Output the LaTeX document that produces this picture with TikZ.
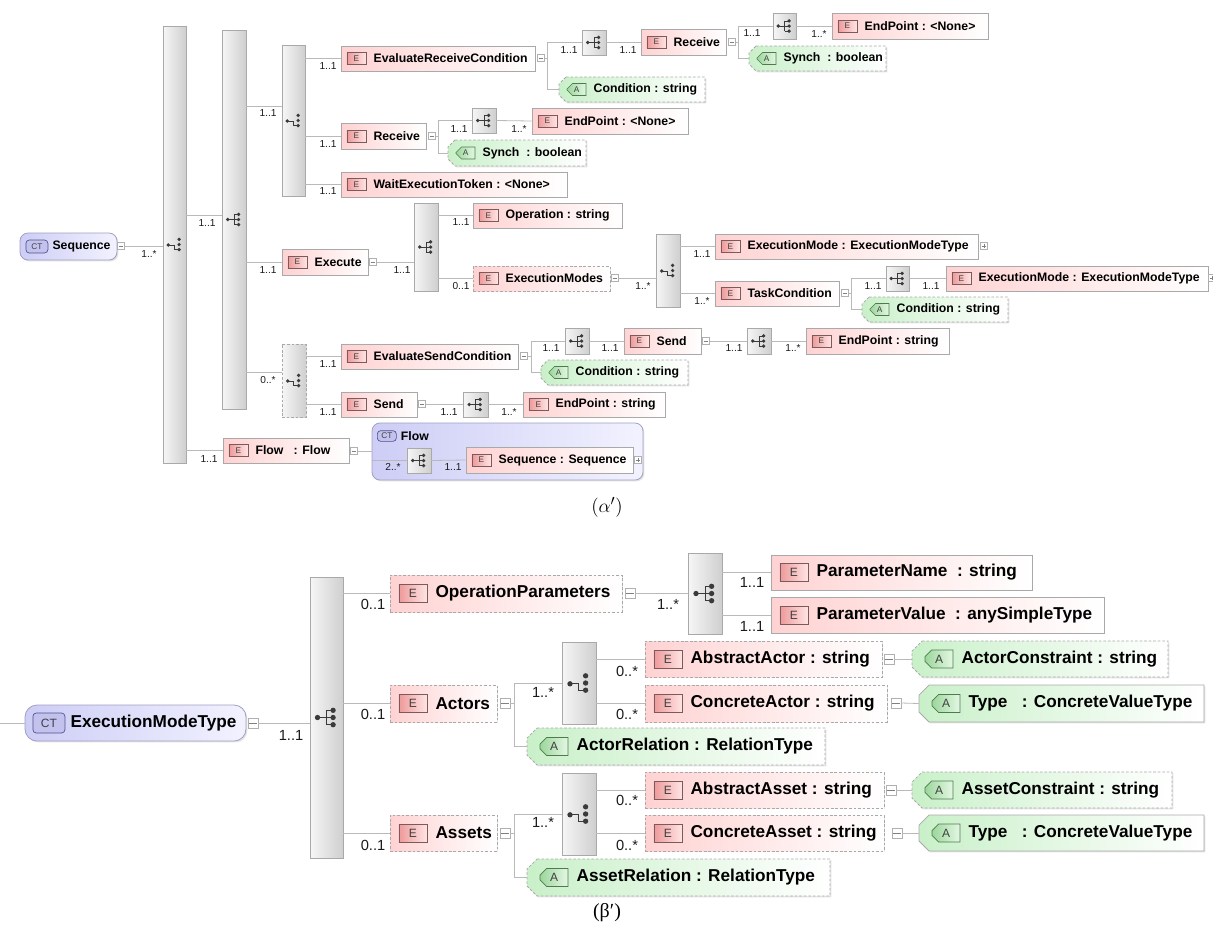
\documentclass[tikz,border=0pt]{standalone}
\usepackage{fontspec}
\newfontfamily\xsfont{Liberation Sans}
\newfontfamily\grfont{Liberation Serif}
\usetikzlibrary{shadows,shapes.misc}

\definecolor{epink}{HTML}{FFD2D2}
\definecolor{bordergray}{HTML}{A9A9A9}
\definecolor{linegray}{HTML}{B9B9B9}
\definecolor{bargrayL}{HTML}{F6F6F6}
\definecolor{bargrayR}{HTML}{CFCFCF}
\definecolor{agreen}{HTML}{C9F0C9}
\definecolor{badgepink}{HTML}{EE9A9A}
\definecolor{badgepinkR}{HTML}{FFE4E4}
\definecolor{badgeline}{HTML}{7A5A5A}
\definecolor{badgegreen}{HTML}{9CD69C}
\definecolor{badgegreenR}{HTML}{E4F8E4}
\definecolor{abadgeline}{HTML}{4E7A4E}
\definecolor{ctlav}{HTML}{CDCDF6}
\definecolor{ctlavR}{HTML}{F2F2FF}
\definecolor{ctborder}{HTML}{A0A0C2}
\definecolor{ctbadge}{HTML}{C2C2EE}
\definecolor{ctbadgeline}{HTML}{50508A}
\definecolor{icdark}{HTML}{3A3A3A}
\definecolor{multc}{HTML}{1A1A1A}
\definecolor{colline}{HTML}{B0B0B0}

% size sets for the two schema views
\newcommand\topsec{%
  \def\bdgoff{4.5pt}\def\bdgw{14.25pt}\def\bdgh{9pt}\def\abdgoff{6pt}%
  \def\bdgfont{\xsfont\fontsize{6.2}{7}\selectfont}%
  \def\labfont{\xsfont\bfseries\fontsize{9.2}{11}\selectfont}%
  \def\mulfont{\xsfont\fontsize{7.6}{9}\selectfont}%
  \def\txtgap{5.25pt}\def\bev{7}\def\colsz{5.25pt}\def\icsc{1.4}%
  \def\ctoff{4.5pt}\def\ctw{16.5pt}\def\cth{9.75pt}\def\ctgap{3pt}\def\ctr{6pt}}
\newcommand\botsec{%
  \def\bdgoff{6.75pt}\def\bdgw{21pt}\def\bdgh{13.5pt}\def\abdgoff{9.75pt}%
  \def\bdgfont{\xsfont\fontsize{9}{10}\selectfont}%
  \def\labfont{\xsfont\bfseries\fontsize{12.9}{15}\selectfont}%
  \def\mulfont{\xsfont\fontsize{11}{13}\selectfont}%
  \def\txtgap{6pt}\def\bev{10}\def\colsz{7.5pt}\def\icsc{2}%
  \def\ctoff{6pt}\def\ctw{24pt}\def\cth{15pt}\def\ctgap{3.75pt}\def\ctr{9pt}}

\tikzset{
  conn/.style={draw=linegray, line width=0.6pt},
  shad/.style={drop shadow={shadow xshift=1.1pt, shadow yshift=-1.1pt, opacity=0.22}},
  ebox/.style={draw=bordergray, line width=0.55pt, left color=epink, right color=white, shad, inner sep=0pt},
  optl/.style={dash pattern=on 2pt off 1.4pt},
  cbox/.style={draw=bordergray, line width=0.55pt, left color=bargrayL, right color=bargrayR, shad, inner sep=0pt},
  abox/.style={draw=bordergray, line width=0.55pt, left color=agreen, right color=white, shad},
  inv/.style={inner sep=0pt, draw=none},
  ebadge/.style={anchor=west, draw=badgeline, line width=0.5pt, left color=badgepink, right color=badgepinkR,
    minimum width=\bdgw, minimum height=\bdgh, inner sep=0pt, font=\bdgfont, text=black!75},
  abadge/.style={anchor=west, draw=abadgeline, line width=0.5pt, left color=badgegreen, right color=badgegreenR,
    chamfered rectangle, chamfered rectangle corners={north west,south west}, chamfered rectangle xsep=2pt,
    minimum width=\bdgw, minimum height=\bdgh, inner sep=0pt, font=\bdgfont, text=black!75},
  etext/.style={anchor=west, inner sep=0pt, xshift=\txtgap, font=\labfont, text=black},
  ctframe/.style={draw=ctborder, line width=0.6pt, rounded corners=\ctr, left color=ctlav, right color=ctlavR, shad, inner sep=0pt},
  ctbadge/.style={anchor=west, draw=ctbadgeline, line width=0.5pt, rounded corners=2.5pt, fill=ctbadge,
    minimum width=\ctw, minimum height=\cth, inner sep=0pt, font=\bdgfont, text=black!75},
  ctlabel/.style={anchor=west, inner sep=0pt, xshift=\ctgap, font=\labfont, text=black},
  mult/.style={inner sep=0pt, font=\mulfont, text=multc},
  colbox/.style={draw=colline, line width=0.5pt, fill=white, minimum size=\colsz, inner sep=0pt},
  colsign/.style={draw=gray, line width=0.5pt},
}

% element box: [style]{name}{x1}{y1}{x2}{y2}{label}
\newcommand\elem[7][]{%
  \pgfmathsetmacro\bw{(#5-#3)*0.75}\pgfmathsetmacro\bh{(#6-#4)*0.75}%
  \node[ebox,#1,minimum width=\bw pt,minimum height=\bh pt] (#2) at ({(#3+#5)/2},{(#4+#6)/2}) {};
  \node[ebadge] (#2-b) at ([xshift=\bdgoff]#2.west) {E};
  \node[etext] (#2-t) at (#2-b.east) {#7};}
% attribute box with bevelled left end
\newcommand\attr[7][]{%
  \pgfmathsetmacro\bw{(#5-#3)*0.75}\pgfmathsetmacro\bh{(#6-#4)*0.75}%
  \node[inv,minimum width=\bw pt,minimum height=\bh pt] (#2) at ({(#3+#5)/2},{(#4+#6)/2}) {};
  \path[abox,#1] ({#3+\bev},#4) -- (#5,#4) -- (#5,#6) -- ({#3+\bev},#6) -- (#3,{#6-\bev}) -- (#3,{#4+\bev}) -- cycle;
  \node[abadge] (#2-b) at ([xshift=\abdgoff]#2.west) {A};
  \node[etext] (#2-t) at (#2-b.east) {#7};}
% compositor box with sequence / choice icon
\newcommand\icseq{%
  \draw[icdark,line width=0.65pt] (-4.5,0) -- (0,0) (0,-3.6) -- (0,3.6) (0,-3.6) -- (3.3,-3.6) (0,0) -- (3.3,0) (0,3.6) -- (3.3,3.6);
  \fill[icdark] (-4.5,0) circle (1pt) (3.3,-3.6) circle (1pt) (3.3,0) circle (1pt) (3.3,3.6) circle (1pt);}
\newcommand\iccho{%
  \draw[icdark,line width=0.65pt] (-4.5,0.4) -- (-0.4,0.4) -- (-0.4,3.6) -- (3.3,3.6);
  \fill[icdark] (-4.5,0.4) circle (1pt) (3.3,-3.6) circle (1pt) (3.3,0) circle (1pt) (3.3,3.6) circle (1pt);}
\newcommand\compo[7][]{%
  \pgfmathsetmacro\bw{(#5-#3)*0.75}\pgfmathsetmacro\bh{(#6-#4)*0.75}%
  \node[cbox,#1,minimum width=\bw pt,minimum height=\bh pt] (#2) at ({(#3+#5)/2},{(#4+#6)/2}) {};
  \begin{scope}[shift={(#2.center)},scale=\icsc]\csname ic#7\endcsname\end{scope}}
% complex type box
\newcommand\ctbox[6]{%
  \pgfmathsetmacro\bw{(#4-#2)*0.75}\pgfmathsetmacro\bh{(#5-#3)*0.75}%
  \node[ctframe,minimum width=\bw pt,minimum height=\bh pt] (#1) at ({(#2+#4)/2},{(#3+#5)/2}) {};
  \node[ctbadge] (#1-b) at ([xshift=\ctoff]#1.west) {CT};
  \node[ctlabel] (#1-t) at (#1-b.east) {#6};}
% collapse / expand toggles
\newcommand\colb[3]{\node[colbox] (#1) at (#2,#3) {};
  \draw[colsign] ([xshift=1.1pt]#1.west) -- ([xshift=-1.1pt]#1.east);}
\newcommand\expb[3]{\colb{#1}{#2}{#3}\draw[colsign] ([yshift=-1.1pt]#1.north) -- ([yshift=1.1pt]#1.south);}
% occurrence label
\newcommand\mul[4]{\node[mult] (#1) at (#2,#3) {#4};}

\begin{document}
\begin{tikzpicture}[x=0.75pt,y=-0.75pt]
\useasboundingbox (0,0) rectangle (1213,936);

%% ---------------- Sequence ----------------
\topsec
\ctbox{seq}{20}{233}{117}{260}{Sequence}
\colb{seqC}{121}{246}
\compo{bar1}{163}{26}{186}{463}{cho}
\draw[conn] (seqC.east) -- (bar1.west |- seqC.east);
\mul{m1}{149}{254}{1..*}

\compo{bar2}{222}{30}{246}{409}{seq}
\coordinate (bar2-in) at (222,215);
\draw[conn] (bar1.east |- bar2-in) -- (bar2-in);
\mul{m2}{207}{223}{1..1}

\compo{bar3}{282}{45}{305}{196}{cho}
\coordinate (bar3-in) at (282,106);
\draw[conn] (bar2.east |- bar3-in) -- (bar3-in);
\mul{m3}{268}{113}{1..1}

\elem{erc}{341}{46}{535}{71}{EvaluateReceiveCondition}
\elem{rcva}{341}{123}{426}{149}{Receive}
\elem{wet}{341}{172}{567}{197}{WaitExecutionToken : <None>}
\draw[conn] (bar3.east |- erc.west) -- (erc.west);
\draw[conn] (bar3.east |- rcva.west) -- (rcva.west);
\draw[conn] (bar3.east |- wet.west) -- (wet.west);
\mul{m4}{328}{66}{1..1}
\mul{m5}{328}{144}{1..1}
\mul{m6}{328}{191}{1..1}

% EvaluateReceiveCondition content
\colb{ercC}{541}{58}
\coordinate (ercJ) at (547,58);
\compo{ib1}{582}{30}{606}{55}{seq}
\attr[optl]{cnd1}{559}{77}{705}{102}{Condition : string}
\draw[conn] (ercC.east) -- (ercJ) (ercJ |- ib1.west) -- (ib1.west) (ercJ |- cnd1.west) -- (cnd1.west)
  (ercJ |- ib1.west) -- (ercJ |- cnd1.west);
\mul{m7}{569}{50}{1..1}
\elem{rcvb}{641}{29}{726}{55}{Receive}
\draw[conn] (ib1.east) -- (rcvb.west |- ib1.east);
\mul{m8}{628}{50}{1..1}
\colb{rcvbC}{732}{42}
\coordinate (rcvbJ) at (738,42);
\compo{ib2}{773}{13}{796}{39}{seq}
\attr[optl]{syn1}{749}{46}{886}{71}{Synch\ \ : boolean}
\draw[conn] (rcvbC.east) -- (rcvbJ) (rcvbJ |- ib2.west) -- (ib2.west) (rcvbJ |- syn1.west) -- (syn1.west)
  (rcvbJ |- ib2.west) -- (rcvbJ |- syn1.west);
\mul{m9}{752}{33}{1..1}
\elem{ep1}{832}{13}{988}{39}{EndPoint : <None>}
\draw[conn] (ib2.east) -- (ep1.west);
\mul{m10}{819}{34}{1..*}

% Receive content
\colb{rcvaC}{432}{136}
\coordinate (rcvaJ) at (438,136);
\compo{ib3}{472}{108}{496}{133}{seq}
\attr[optl]{syn2}{448}{140}{586}{166}{Synch\ \ : boolean}
\draw[conn] (rcvaC.east) -- (rcvaJ) (rcvaJ |- ib3.west) -- (ib3.west) (rcvaJ |- syn2.west) -- (syn2.west)
  (rcvaJ |- ib3.west) -- (rcvaJ |- syn2.west);
\mul{m11}{459}{129}{1..1}
\elem{ep2}{532}{108}{688}{134}{EndPoint : <None>}
\draw[conn] (ib3.east) -- (ep2.west);
\mul{m12}{519}{129}{1..*}

% Execute
\elem{exe}{282}{249}{368}{275}{Execute}
\draw[conn] (bar2.east |- exe.west) -- (exe.west);
\mul{m13}{268}{270}{1..1}
\colb{exeC}{373}{262}
\compo{bar4}{414}{203}{438}{291}{seq}
\draw[conn] (exeC.east) -- (bar4.west |- exeC.east);
\mul{m14}{402}{270}{1..1}
\elem{op}{473}{203}{622}{228}{Operation : string}
\elem[optl]{ems}{473}{266}{610}{291}{ExecutionModes}
\draw[conn] (bar4.east |- op.west) -- (op.west);
\draw[conn] (bar4.east |- ems.west) -- (ems.west);
\mul{m15}{461}{222}{1..1}
\mul{m16}{461}{286}{0..1}
\colb{emsC}{615}{278}
\compo{bar5}{656}{234}{680}{307}{cho}
\draw[conn] (emsC.east) -- (bar5.west |- emsC.east);
\mul{m17}{643}{286}{1..*}
\elem{em1}{715}{234}{978}{259}{ExecutionMode : ExecutionModeType}
\expb{em1X}{984}{246}
\elem{tc}{715}{281}{839}{306}{TaskCondition}
\draw[conn] (bar5.east |- em1.west) -- (em1.west);
\draw[conn] (bar5.east |- tc.west) -- (tc.west);
\mul{m18}{702}{254}{1..1}
\mul{m19}{702}{301}{1..*}
\colb{tcC}{845}{293}
\coordinate (tcJ) at (851,293);
\compo{ib4}{886}{266}{909}{291}{seq}
\attr[optl]{cnd2}{862}{297}{1008}{322}{Condition : string}
\draw[conn] (tcC.east) -- (tcJ) (tcJ |- ib4.west) -- (ib4.west) (tcJ |- cnd2.west) -- (cnd2.west)
  (tcJ |- ib4.west) -- (tcJ |- cnd2.west);
\mul{m20}{873}{286}{1..1}
\elem{em2}{946}{266}{1208}{291}{ExecutionMode : ExecutionModeType}
\draw[conn] (ib4.east) -- (em2.west);
\mul{m21}{931}{286}{1..1}
\expb{em2X}{1212}{278}

% optional send choice
\compo[optl]{dbar}{282}{344}{306}{417}{cho}
\coordinate (dbar-in) at (282,372);
\draw[conn] (bar2.east |- dbar-in) -- (dbar-in);
\mul{m22}{268}{380}{0..*}
\elem{esc}{341}{344}{518}{369}{EvaluateSendCondition}
\elem{snda}{341}{392}{417}{417}{Send}
\draw[conn] (dbar.east |- esc.west) -- (esc.west);
\draw[conn] (dbar.east |- snda.west) -- (snda.west);
\mul{m23}{328}{364}{1..1}
\mul{m24}{328}{412}{1..1}
\colb{escC}{524}{356}
\coordinate (escJ) at (531,356);
\compo{ib5}{565}{328}{589}{354}{seq}
\attr[optl]{cnd3}{541}{360}{688}{385}{Condition : string}
\draw[conn] (escC.east) -- (escJ) (escJ |- ib5.west) -- (ib5.west) (escJ |- cnd3.west) -- (cnd3.west)
  (escJ |- ib5.west) -- (escJ |- cnd3.west);
\mul{m25}{551}{348}{1..1}
\elem{sndb}{624}{328}{701}{354}{Send}
\draw[conn] (ib5.east) -- (sndb.west |- ib5.east);
\mul{m26}{610}{348}{1..1}
\colb{sndbC}{706}{341}
\compo{ib6}{747}{328}{771}{354}{seq}
\draw[conn] (sndbC.east) -- (ib6.west |- sndbC.east);
\mul{m27}{734}{348}{1..1}
\elem{ep3}{806}{328}{949}{354}{EndPoint : string}
\draw[conn] (ib6.east) -- (ep3.west);
\mul{m28}{793}{348}{1..*}
\colb{sndaC}{422}{404}
\compo{ib7}{463}{392}{488}{417}{seq}
\draw[conn] (sndaC.east) -- (ib7.west |- sndaC.east);
\mul{m29}{449}{412}{1..1}
\elem{ep4}{523}{392}{665}{417}{EndPoint : string}
\draw[conn] (ib7.east) -- (ep4.west);
\mul{m30}{509}{412}{1..*}

% Flow
\elem{flow}{223}{438}{349}{463}{Flow\ \ \ : Flow}
\draw[conn] (bar1.east |- flow.west) -- (flow.west);
\mul{m31}{209}{459}{1..1}
\colb{flowC}{354}{451}
\pgfmathsetmacro\bw{(643-372)*0.75}\pgfmathsetmacro\bh{(480-423)*0.75}
\node[ctframe,minimum width=\bw pt,minimum height=\bh pt] (ctflow) at (507.5,451.5) {};
\node[ctbadge,minimum width=14.25pt,minimum height=8pt] (ctflow-b) at (377,436) {CT};
\node[ctlabel] (ctflow-t) at (ctflow-b.east) {Flow};
\draw[conn] (flowC.east) -- (ctflow.west |- flowC.east);
\compo{ib8}{407}{448}{431}{473}{seq}
\draw[conn] (ctflow.west |- ib8.west) -- (ib8.west);
\mul{m32}{393}{467}{2..*}
\elem{sq}{466}{447}{633}{473}{Sequence : Sequence}
\draw[conn] (ib8.east) -- (sq.west);
\mul{m33}{453}{467}{1..1}
\expb{sqX}{638}{460}

\node (capa) at (607,507) {\fontsize{15}{17}\selectfont$(\alpha')$};

%% ---------------- ExecutionModeType ----------------
\botsec
\coordinate (emtin) at (0,723);
\ctbox{emt}{25}{705}{246}{741}{ExecutionModeType}
\draw[conn] (emtin) -- (emt.west);
\colb{emtC}{253}{723}
\compo{bar6}{310}{577}{343}{858}{seq}
\draw[conn] (emtC.east) -- (bar6.west |- emtC.east);
\mul{n1}{291}{735}{1..1}

\elem[optl]{opp}{390}{575}{622}{612}{OperationParameters}
\elem[optl]{act}{390}{685}{497}{722}{Actors}
\elem[optl]{ast}{390}{815}{497}{851}{Assets}
\draw[conn] (bar6.east |- opp.west) -- (opp.west);
\draw[conn] (bar6.east |- act.west) -- (act.west);
\draw[conn] (bar6.east |- ast.west) -- (ast.west);
\mul{n2}{373}{604}{0..1}
\mul{n3}{373}{714}{0..1}
\mul{n4}{373}{845}{0..1}

% OperationParameters content
\colb{oppC}{630}{593}
\compo{bar7}{688}{553}{722}{634}{seq}
\draw[conn] (oppC.east) -- (bar7.west |- oppC.east);
\mul{n5}{668}{604}{1..*}
\elem{pn}{771}{555}{1032}{590}{ParameterName\ \ : string}
\elem{pv}{771}{597}{1104}{633}{ParameterValue\ \ : anySimpleType}
\draw[conn] (bar7.east |- pn.west) -- (pn.west);
\draw[conn] (bar7.east |- pv.west) -- (pv.west);
\mul{n6}{752}{582}{1..1}
\mul{n7}{752}{626}{1..1}

% Actors content
\colb{actC}{505}{703}
\coordinate (actJ) at (514,703);
\compo{bar8}{562}{642}{596}{724}{cho}
\attr[optl]{ar}{527}{728}{825}{765}{ActorRelation : RelationType}
\draw[conn] (actC.east) -- (actJ) (actJ |- bar8.west) -- (bar8.west) (actJ |- ar.west) -- (ar.west)
  (actJ |- bar8.west) -- (actJ |- ar.west);
\mul{n8}{543}{692}{1..*}
\elem[optl]{aa}{645}{641}{882}{677}{AbstractActor : string}
\elem[optl]{ca}{645}{685}{887}{722}{ConcreteActor : string}
\draw[conn] (bar8.east |- aa.west) -- (aa.west);
\draw[conn] (bar8.east |- ca.west) -- (ca.west);
\mul{n9}{627}{671}{0..*}
\mul{n10}{627}{714}{0..*}
\colb{aaC}{889}{659}
\attr[optl]{ac}{912}{641}{1168}{677}{ActorConstraint : string}
\draw[conn] (aaC.east) -- (ac.west);
\colb{caC}{896}{703}
\attr{tya}{919}{685}{1204}{722}{Type\ \ \ : ConcreteValueType}
\draw[conn] (caC.east) -- (tya.west);

% Assets content
\colb{astC}{505}{833}
\coordinate (astJ) at (514,833);
\compo{bar9}{562}{773}{596}{855}{cho}
\attr[optl]{asr}{527}{859}{830}{896}{AssetRelation : RelationType}
\draw[conn] (astC.east) -- (astJ) (astJ |- bar9.west) -- (bar9.west) (astJ |- asr.west) -- (asr.west)
  (astJ |- bar9.west) -- (astJ |- asr.west);
\mul{n11}{543}{822}{1..*}
\elem[optl]{aas}{645}{772}{884}{808}{AbstractAsset : string}
\elem[optl]{cas}{645}{815}{884}{851}{ConcreteAsset : string}
\draw[conn] (bar9.east |- aas.west) -- (aas.west);
\draw[conn] (bar9.east |- cas.west) -- (cas.west);
\mul{n12}{627}{800}{0..*}
\mul{n13}{627}{845}{0..*}
\colb{aasC}{891}{790}
\attr[optl]{asc}{912}{772}{1172}{808}{AssetConstraint : string}
\draw[conn] (aasC.east) -- (asc.west);
\colb{casC}{897}{833}
\attr{tyb}{919}{815}{1204}{851}{Type\ \ \ : ConcreteValueType}
\draw[conn] (casC.east) -- (tyb.west);

\node (capb) at (607,913) {\grfont\fontsize{15}{17}\selectfont(β′)};
\end{tikzpicture}
\end{document}
